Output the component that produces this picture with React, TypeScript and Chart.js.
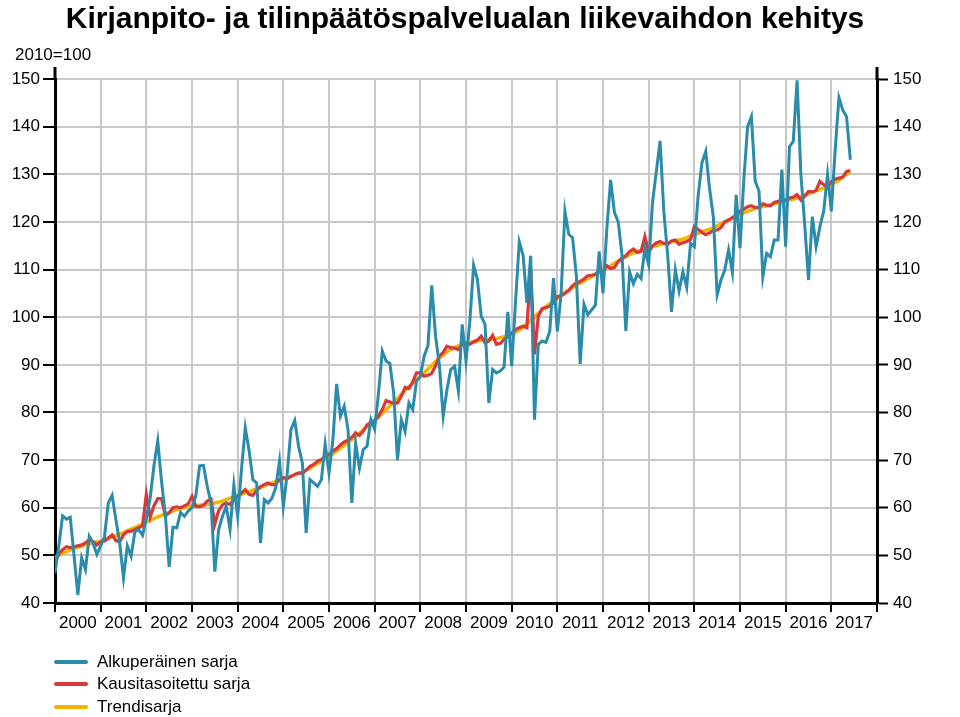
import React, { useEffect, useRef } from 'react';
import { Chart, registerables } from 'chart.js';

Chart.register(...registerables);

const TITLE = 'Kirjanpito- ja tilinpäätöspalvelualan liikevaihdon kehitys';
const UNIT_LABEL = '2010=100';
const YEARS = [2000, 2001, 2002, 2003, 2004, 2005, 2006, 2007, 2008, 2009, 2010, 2011, 2012, 2013, 2014, 2015, 2016, 2017];
const SERIES_NAMES = ['Alkuperäinen sarja', 'Kausitasoitettu sarja', 'Trendisarja'];
const SERIES_COLORS = ['#2a8bab', '#d8383a', '#f2b600'];
const Y_TICKS = [40, 50, 60, 70, 80, 90, 100, 110, 120, 130, 140, 150];

// Monthly values, Jan 2000 .. Jun 2017
const ORIGINAL = [
  46.3, 52.0, 58.3, 57.6, 58.0, 50.0, 41.7, 49.5, 47.0, 54.0, 52.6, 50.2,
  52.0, 53.9, 61.0, 62.6, 57.5, 52.6, 45.3, 52.0, 49.8, 55.0, 55.4, 54.2,
  57.8, 62.0, 68.8, 74.0, 65.5, 58.5, 47.6, 55.9, 55.8, 59.0, 58.2, 59.3,
  60.0, 62.5, 68.8, 68.9, 64.5, 61.0, 46.6, 55.4, 58.2, 60.3, 55.4, 64.8,
  58.2, 68.0, 76.8, 72.0, 65.9, 65.2, 52.6, 61.7, 61.0, 62.0, 64.2, 69.8,
  60.3, 67.0, 76.4, 78.3, 72.9, 69.4, 54.7, 65.9, 65.2, 64.5, 65.9, 73.4,
  67.3, 74.0, 86.0, 79.2, 81.3, 76.4, 61.0, 73.6, 68.3, 72.2, 72.9, 78.5,
  76.5, 84.0, 92.9, 90.8, 90.3, 84.0, 70.0, 78.5, 76.0, 82.0, 80.6, 86.6,
  87.6, 91.8, 94.0, 106.7, 96.0, 90.0, 79.2, 84.8, 89.0, 89.7, 84.5, 98.5,
  90.8, 99.0, 110.9, 107.9, 100.2, 98.5, 82.0, 89.0, 88.3, 88.7, 89.5, 101.1,
  89.7, 103.0, 115.8, 113.0, 103.0, 112.9, 78.5, 94.3, 95.0, 94.7, 97.0, 108.2,
  97.0, 105.0, 122.2, 117.4, 116.7, 108.7, 90.2, 102.7, 100.5, 101.5, 102.5, 113.8,
  105.0, 118.5, 128.8, 122.0, 120.0, 113.0, 97.1, 109.5, 107.0, 109.0, 108.1, 114.3,
  111.0, 124.0, 130.5, 137.0, 122.0, 113.0, 101.1, 110.0, 105.5, 109.5, 106.3, 115.5,
  114.8, 125.5, 132.4, 134.8, 127.0, 121.0, 104.7, 107.8, 109.9, 114.1, 109.4, 125.7,
  114.5, 128.8, 140.0, 142.1, 128.5, 126.5, 108.5, 113.4, 112.7, 116.2, 116.2, 131.0,
  114.8, 135.8, 136.9, 149.7, 130.0, 119.5, 107.8, 121.1, 114.8, 119.0, 122.3, 130.0,
  122.2, 135.0, 146.1, 143.5, 142.1, 133.0,
];

const SEASONAL = [
  48.7, 50.3, 51.2, 51.8, 51.6, 51.8, 52.0, 52.2, 52.6, 53.3, 52.9, 52.2,
  52.8, 53.0, 53.6, 54.3, 53.1, 52.9, 54.3, 55.0, 55.1, 55.4, 55.8, 56.2,
  62.8, 58.0, 60.4, 61.9, 61.9, 58.3, 58.9, 60.0, 60.2, 60.0, 60.4, 60.8,
  62.4, 60.3, 60.2, 60.5, 61.4, 61.8, 56.6, 59.4, 60.6, 61.0, 60.7, 61.7,
  62.4, 63.1, 63.8, 62.8, 62.6, 63.6, 64.4, 64.9, 65.2, 64.8, 64.9, 65.9,
  66.3, 66.1, 66.6, 67.0, 67.3, 67.2, 67.9, 68.7, 69.1, 69.8, 70.1, 70.8,
  71.2, 71.9, 72.4, 73.2, 73.8, 74.2, 74.8, 75.7, 75.2, 76.1, 77.4, 77.9,
  78.3, 79.2, 80.6, 82.5, 82.2, 81.9, 82.0, 83.4, 85.3, 85.0, 86.4, 88.3,
  88.3, 87.6, 87.8, 88.2, 89.8, 91.8, 92.6, 93.9, 93.6, 93.5, 93.2, 94.3,
  94.6, 94.3, 94.8, 95.2, 96.0, 94.6, 95.0, 96.2, 94.3, 94.5, 95.3, 96.0,
  96.6, 97.4, 97.8, 98.1, 97.8, 110.3, 92.2, 100.2, 101.8, 102.0, 102.3, 103.0,
  104.3, 104.5, 105.0, 105.6, 106.6, 107.2, 107.5, 108.0, 108.7, 108.8, 109.0, 109.7,
  109.6, 110.8, 110.2, 110.4, 111.7, 112.4, 112.9, 113.8, 114.3, 113.6, 113.8, 116.9,
  113.6, 115.0, 115.6, 115.9, 115.5, 115.3, 116.0, 116.2, 115.3, 115.6, 115.9, 116.3,
  119.0, 118.4, 117.8, 117.3, 117.7, 118.2, 118.3, 118.8, 120.0, 120.4, 120.9, 121.4,
  122.2, 122.7, 123.2, 123.4, 123.0, 123.1, 123.8, 123.5, 123.4, 124.1, 124.3, 124.4,
  124.6, 125.0, 125.2, 125.7, 124.6, 125.4, 126.4, 126.3, 126.6, 128.5, 127.8, 127.4,
  128.4, 129.0, 129.2, 129.4, 130.6, 130.8,
];

const TREND = [
  49.5, 50.0, 50.4, 50.8, 51.1, 51.4, 51.7, 51.9, 52.2, 52.4, 52.6, 52.8,
  53.0, 53.3, 53.6, 53.9, 54.2, 54.5, 54.8, 55.2, 55.5, 55.9, 56.2, 56.6,
  57.0, 57.4, 57.7, 58.1, 58.4, 58.7, 59.0, 59.3, 59.6, 59.8, 60.0, 60.2,
  60.3, 60.4, 60.5, 60.6, 60.7, 60.8, 61.0, 61.2, 61.4, 61.7, 62.0, 62.2,
  62.5, 62.8, 63.1, 63.4, 63.7, 64.0, 64.3, 64.6, 64.9, 65.2, 65.5, 65.8,
  66.0, 66.3, 66.6, 66.9, 67.2, 67.5, 67.9, 68.3, 68.8, 69.3, 69.8, 70.3,
  70.8, 71.3, 71.9, 72.5, 73.1, 73.7, 74.3, 74.9, 75.6, 76.3, 77.0, 77.6,
  78.3, 79.0, 79.8, 80.6, 81.4, 82.2, 83.0, 83.8, 84.6, 85.4, 86.1, 86.8,
  87.5, 88.3, 89.1, 89.9, 90.7, 91.4, 92.1, 92.7, 93.2, 93.6, 94.0, 94.3,
  94.5, 94.7, 94.9, 95.0, 95.1, 95.2, 95.3, 95.4, 95.5, 95.7, 95.9, 96.1,
  96.4, 96.8, 97.3, 97.9, 98.6, 99.3, 100.0, 100.8, 101.5, 102.2, 102.8, 103.4,
  104.0, 104.6, 105.2, 105.7, 106.2, 106.7, 107.2, 107.6, 108.1, 108.5, 109.0, 109.4,
  109.8, 110.3, 110.8, 111.3, 111.8, 112.2, 112.7, 113.1, 113.5, 113.8, 114.1, 114.3,
  114.5, 114.8, 115.0, 115.2, 115.4, 115.6, 115.8, 116.0, 116.2, 116.4, 116.7, 117.0,
  117.3, 117.6, 117.9, 118.2, 118.5, 118.8, 119.2, 119.6, 120.0, 120.4, 120.8, 121.2,
  121.6, 121.9, 122.2, 122.5, 122.8, 123.0, 123.2, 123.4, 123.6, 123.8, 124.0, 124.2,
  124.4, 124.6, 124.8, 125.0, 125.3, 125.6, 125.9, 126.2, 126.5, 126.8, 127.1, 127.4,
  127.8, 128.3, 128.8, 129.4, 130.0, 130.5,
];

const FONT = '"Liberation Sans", Arial, Helvetica, sans-serif';
const W = 960;
const H = 717;

const toPoints = (arr: number[]) => arr.map((v, i) => ({ x: i, y: v }));

const extrasPlugin = {
  id: 'extras',
  afterDraw(chart: any) {
    const { ctx, chartArea } = chart;
    ctx.save();
    ctx.strokeStyle = '#000';
    ctx.lineWidth = 3;
    ctx.beginPath();
    ctx.moveTo(chartArea.left, chartArea.top - 12);
    ctx.lineTo(chartArea.left, chartArea.top + 1);
    ctx.moveTo(chartArea.right, chartArea.top - 12);
    ctx.lineTo(chartArea.right, chartArea.top + 1);
    ctx.stroke();
    ctx.fillStyle = '#000';
    ctx.textBaseline = 'middle';
    ctx.textAlign = 'center';
    ctx.font = `bold 30px ${FONT}`;
    ctx.fillText(TITLE, 465, 20);
    ctx.textAlign = 'left';
    ctx.font = `17px ${FONT}`;
    ctx.fillText(UNIT_LABEL, 15, 55);
    ctx.restore();
  },
};

export default function App() {
  const canvasRef = useRef<HTMLCanvasElement | null>(null);

  useEffect(() => {
    const canvas = canvasRef.current;
    if (!canvas) return;
    const monthsTotal = YEARS.length * 12;
    const chart = new Chart(canvas, {
      type: 'line',
      data: {
        datasets: [
          { label: SERIES_NAMES[0], data: toPoints(ORIGINAL), borderColor: SERIES_COLORS[0], borderWidth: 3, pointRadius: 0, tension: 0, yAxisID: 'y' },
          { label: SERIES_NAMES[1], data: toPoints(SEASONAL), borderColor: SERIES_COLORS[1], borderWidth: 3.2, pointRadius: 0, tension: 0, yAxisID: 'y' },
          { label: SERIES_NAMES[2], data: toPoints(TREND), borderColor: SERIES_COLORS[2], borderWidth: 3.5, pointRadius: 0, tension: 0.3, yAxisID: 'y' },
        ],
      },
      options: {
        responsive: false,
        animation: false,
        devicePixelRatio: 1,
        layout: { padding: { left: 0, right: 0, top: 79, bottom: 0 } },
        plugins: {
          legend: { display: false },
          tooltip: { enabled: false },
          title: { display: false },
        },
        scales: {
          x: {
            type: 'linear',
            min: 0,
            max: monthsTotal,
            afterFit: (s: any) => { s.height = H - 603; },
            border: { display: true, color: '#000', width: 3 },
            grid: {
              color: (c: any) => (c.tick && c.tick.value % 12 === 0 ? '#c8c8c8' : 'rgba(0,0,0,0)'),
              tickColor: (c: any) => (c.tick && c.tick.value % 12 === 0 ? '#000' : 'rgba(0,0,0,0)'),
              lineWidth: 2,
              tickWidth: 2,
              tickLength: 9,
            },
            ticks: {
              stepSize: 6,
              autoSkip: false,
              maxRotation: 0,
              minRotation: 0,
              padding: 1,
              color: '#000',
              font: { family: FONT, size: 17 },
              callback: (v: any) => {
                const n = Number(v);
                return n % 12 === 6 ? String(YEARS[(n - 6) / 12]) : '';
              },
            },
          },
          y: {
            type: 'linear',
            position: 'left',
            min: Y_TICKS[0],
            max: Y_TICKS[Y_TICKS.length - 1],
            afterFit: (s: any) => { s.width = 55; },
            border: { display: true, color: '#000', width: 3 },
            grid: { color: '#c8c8c8', lineWidth: 2, tickColor: '#000', tickWidth: 2, tickLength: 12 },
            ticks: { stepSize: 10, padding: 3, color: '#000', font: { family: FONT, size: 17 } },
          },
          y2: {
            type: 'linear',
            position: 'right',
            min: Y_TICKS[0],
            max: Y_TICKS[Y_TICKS.length - 1],
            afterFit: (s: any) => { s.width = W - 877; },
            border: { display: true, color: '#000', width: 3 },
            grid: { drawOnChartArea: false, tickColor: '#000', tickWidth: 2, tickLength: 11 },
            ticks: { stepSize: 10, padding: 5, color: '#000', font: { family: FONT, size: 17 } },
          },
        },
      },
      plugins: [extrasPlugin],
    });
    return () => chart.destroy();
  }, []);

  return (
    <div style={{ position: 'fixed', left: 0, top: 0, width: W, height: H, background: '#fff', overflow: 'hidden' }}>
      <canvas ref={canvasRef} width={W} height={H} style={{ position: 'absolute', left: 0, top: 0, width: W, height: H }} />
      {SERIES_NAMES.map((name, i) => (
        <div
          key={name}
          style={{
            position: 'absolute',
            left: 54,
            top: 661.7 + 22.5 * i - 11,
            height: 22,
            display: 'flex',
            alignItems: 'center',
            fontFamily: FONT,
            fontSize: 17,
            color: '#000',
            whiteSpace: 'nowrap',
          }}
        >
          <span style={{ display: 'inline-block', width: 34, height: 4, background: SERIES_COLORS[i], borderRadius: 2, marginRight: 9 }} />
          <span>{name}</span>
        </div>
      ))}
    </div>
  );
}
